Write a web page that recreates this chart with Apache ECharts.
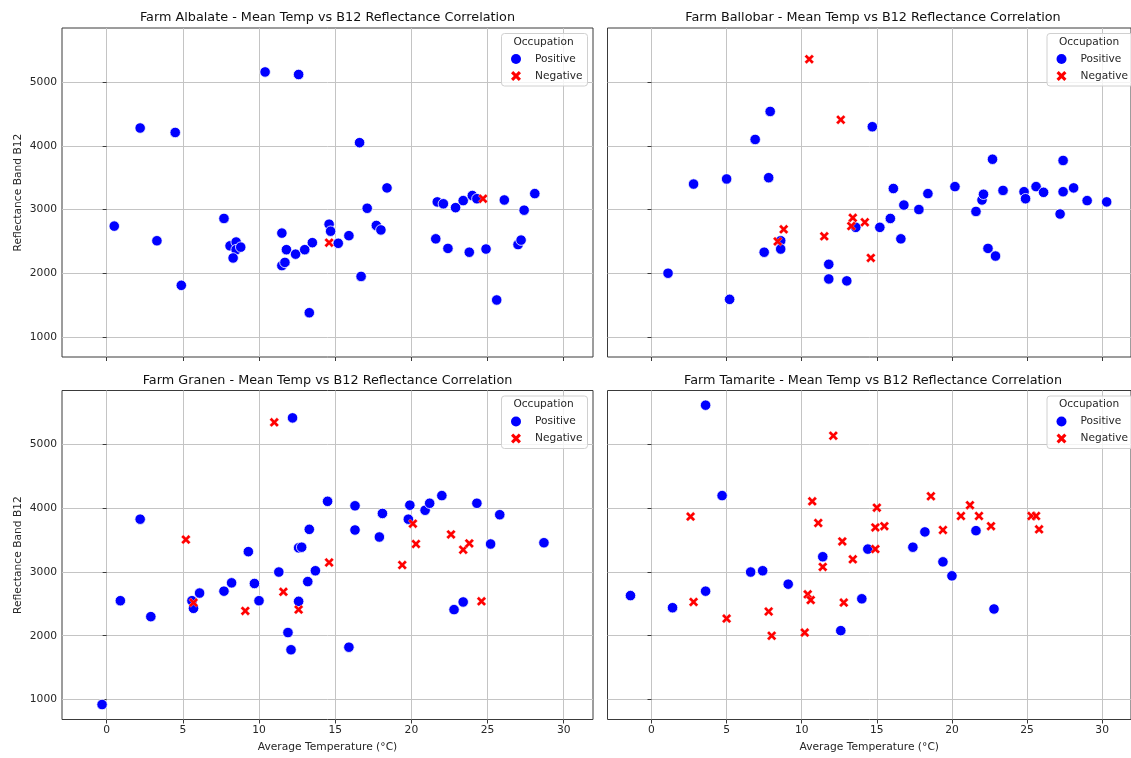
<!DOCTYPE html>
<html><head><meta charset="utf-8">
<script src="https://cdn.jsdelivr.net/npm/echarts@6/dist/echarts.min.js"></script>
<style>html,body{margin:0;padding:0;background:#fff}#c{width:1131px;height:758px}</style>
</head><body><div id="c"></div>
<script>
// ---- data: [Average Temperature (°C), Reflectance Band B12] ----
const farmNames = ['Albalate', 'Ballobar', 'Granen', 'Tamarite'];

const albalatePositive = [[0.5,2740],[2.2,4280],[3.3,2510],[4.5,4210],[4.9,1810],[7.7,2860],[8.1,2430],[8.5,2490],[8.5,2370],[8.8,2410],[8.3,2240],[10.4,5160],[12.6,5120],[11.5,2630],[11.8,2370],[11.5,2120],[11.7,2170],[12.4,2300],[13.0,2370],[13.5,2480],[13.3,1380],[14.6,2770],[14.7,2660],[15.2,2470],[15.9,2590],[16.6,4050],[16.7,1950],[17.1,3020],[17.7,2750],[18.0,2680],[18.4,3340],[21.6,2540],[21.7,3120],[22.1,3090],[22.4,2390],[22.9,3030],[23.4,3140],[23.8,2330],[24.0,3220],[24.3,3170],[24.9,2380],[25.6,1580],[26.1,3150],[27.0,2450],[27.2,2520],[27.4,2990],[28.1,3250]];
const albalateNegative = [[14.6,2480],[24.7,3170]];

const ballobarPositive = [[1.1,2000],[2.8,3400],[5.0,3480],[5.2,1590],[6.9,4100],[7.9,4540],[7.8,3500],[7.5,2330],[8.6,2510],[8.6,2380],[11.8,2140],[11.8,1910],[13.0,1880],[13.6,2720],[14.7,4300],[15.2,2720],[15.9,2860],[16.1,3330],[16.6,2540],[16.8,3070],[17.8,3000],[18.4,3250],[20.2,3360],[21.6,2970],[22.0,3150],[22.1,3240],[22.4,2390],[22.7,3790],[22.9,2270],[23.4,3300],[24.8,3280],[24.9,3170],[25.6,3360],[26.1,3270],[27.2,2930],[27.4,3770],[27.4,3280],[28.1,3340],[29.0,3140],[30.3,3120]];
const ballobarNegative = [[10.5,5360],[12.6,4410],[8.8,2690],[8.4,2500],[11.5,2580],[13.4,2870],[13.3,2740],[14.2,2800],[14.6,2240]];

const granenPositive = [[-0.3,920],[0.9,2550],[2.2,3830],[2.9,2300],[5.6,2550],[5.7,2430],[6.1,2670],[7.7,2700],[8.2,2830],[9.3,3320],[9.7,2820],[10.0,2550],[11.3,3000],[11.9,2050],[12.1,1780],[12.2,5420],[12.6,3380],[12.8,3390],[12.6,2540],[13.2,2850],[13.3,3670],[13.7,3020],[14.5,4110],[15.9,1820],[16.3,4040],[16.3,3660],[17.9,3550],[18.1,3920],[19.8,3830],[19.9,4050],[20.9,3970],[21.2,4080],[22.0,4200],[22.8,2410],[23.4,2530],[24.3,4080],[25.2,3440],[25.8,3900],[28.7,3460]];
const granenNegative = [[11.0,5350],[5.2,3510],[5.7,2520],[9.1,2390],[11.6,2690],[12.6,2410],[14.6,3150],[19.4,3110],[20.1,3760],[20.3,3440],[22.6,3590],[23.4,3350],[23.8,3450],[24.6,2540]];

const tamaritePositive = [[-1.4,2630],[1.4,2440],[3.6,5620],[3.6,2700],[4.7,4200],[6.6,3000],[7.4,3020],[9.1,2810],[11.4,3240],[12.6,2080],[14.0,2580],[14.4,3360],[17.4,3390],[18.2,3630],[19.4,3160],[20.0,2940],[21.6,3650],[22.8,2420]];
const tamariteNegative = [[2.6,3870],[2.8,2530],[5.0,2270],[7.8,2380],[8.0,2000],[10.2,2050],[10.4,2650],[10.6,2560],[10.7,4110],[11.1,3770],[11.4,3080],[12.1,5140],[12.7,3480],[12.8,2520],[13.4,3200],[14.9,3360],[14.9,3700],[15.0,4010],[15.5,3720],[18.6,4190],[19.4,3660],[20.6,3880],[21.2,4050],[21.8,3880],[22.6,3720],[25.3,3880],[25.6,3880],[25.8,3670]];

const xTickValues = [0, 5, 10, 15, 20, 25, 30];
const yTickValues = [1000, 2000, 3000, 4000, 5000];
const legendLabels = ['Positive', 'Negative'];
// ---------------------------------------------------------------

const positives = [albalatePositive, ballobarPositive, granenPositive, tamaritePositive];
const negatives = [albalateNegative, ballobarNegative, granenNegative, tamariteNegative];

const FONT = 'DejaVu Sans';
const FS = 10.7;
const XMIN = -2.93, XMAX = 31.92, YMIN = 685, YMAX = 5850;
const GW = 531, GH = 329;
const gridPos = [[62, 28], [607.5, 28], [62, 390.5], [607.5, 390.5]];
const XPATH = 'path://M0,2.2 L2.2,0 L5,2.8 L7.8,0 L10,2.2 L7.2,5 L10,7.8 L7.8,10 L5,7.2 L2.2,10 L0,7.8 L2.8,5 Z';

const grids = [], xAxes = [], yAxes = [], series = [], legends = [], graphics = [];
gridPos.forEach(([l, t], i) => {
  const isLeft = i % 2 === 0, isBottom = i >= 2;
  grids.push({left: l, top: t, width: GW, height: GH, show: true, borderColor: '#3a3a3a', borderWidth: 1, backgroundColor: 'transparent'});
  xAxes.push({
    type: 'value', gridIndex: i, min: XMIN, max: XMAX,
    axisLine: {show: false},
    axisTick: {show: true, length: 4, lineStyle: {color: '#3a3a3a'}, customValues: xTickValues},
    axisLabel: {show: isBottom, color: '#262626', fontFamily: FONT, fontSize: FS, margin: 5, customValues: xTickValues, formatter: v => String(v)},
    splitLine: {show: true, lineStyle: {color: '#c4c4c4', width: 1}},
    name: isBottom ? 'Average Temperature (°C)' : '', nameLocation: 'middle', nameGap: 22,
    nameTextStyle: {color: '#262626', fontFamily: FONT, fontSize: FS}
  });
  yAxes.push({
    type: 'value', gridIndex: i, min: YMIN, max: YMAX,
    axisLine: {show: false},
    axisTick: {show: true, length: 4, lineStyle: {color: '#3a3a3a'}, customValues: yTickValues},
    axisLabel: {show: isLeft, color: '#262626', fontFamily: FONT, fontSize: FS, margin: 5, customValues: yTickValues, formatter: v => String(v)},
    splitLine: {show: true, lineStyle: {color: '#c4c4c4', width: 1}},
    name: isLeft ? 'Reflectance Band B12' : '', nameLocation: 'middle', nameGap: 38,
    nameTextStyle: {color: '#262626', fontFamily: FONT, fontSize: FS}
  });
  series.push({
    type: 'scatter', name: legendLabels[0], xAxisIndex: i, yAxisIndex: i, data: positives[i],
    symbol: 'circle', symbolSize: 10.5,
    itemStyle: {color: '#0000ff', borderColor: '#ffffff', borderWidth: 0.8, opacity: 1}
  });
  series.push({
    type: 'scatter', name: legendLabels[1], xAxisIndex: i, yAxisIndex: i, data: negatives[i],
    symbol: XPATH, symbolSize: 9.5,
    itemStyle: {color: '#ff0000', borderColor: '#ffffff', borderWidth: 0.3, opacity: 1}
  });
  // subplot title
  graphics.push({
    type: 'text', x: l + GW / 2, y: t - 16.5,
    style: {text: 'Farm ' + farmNames[i] + ' - Mean Temp vs B12 Reflectance Correlation', fill: '#111', font: '12.8px "DejaVu Sans"', align: 'center', verticalAlign: 'top'}
  });
  // legend frame + title
  const bx = l + GW - 91.5, by = t + 5.5;
  graphics.push({type: 'rect', shape: {x: bx, y: by, width: 86, height: 52.5, r: 3}, style: {fill: 'rgba(255,255,255,0.8)', stroke: '#d0d0d0', lineWidth: 1}, z: 5});
  graphics.push({type: 'text', x: bx + 42, y: by + 3, style: {text: 'Occupation', fill: '#262626', font: '10.6px "DejaVu Sans"', align: 'center', verticalAlign: 'top'}, z: 6});
  legends.push({
    orient: 'vertical', left: bx + 9.5, top: by + 20, padding: 0, itemGap: 6,
    itemWidth: 10, itemHeight: 10, z: 7,
    textStyle: {color: '#262626', fontFamily: FONT, fontSize: 10.6, padding: [0, 0, 0, 9]},
    data: [
      {name: legendLabels[0], icon: 'circle', itemStyle: {color: '#0000ff', borderWidth: 0}},
      {name: legendLabels[1], icon: XPATH, itemStyle: {color: '#ff0000', borderWidth: 0}}
    ]
  });
});

const chart = echarts.init(document.getElementById('c'), null, {renderer: 'canvas'});
chart.setOption({
  animation: false,
  backgroundColor: '#ffffff',
  grid: grids, xAxis: xAxes, yAxis: yAxes, series: series, legend: legends,
  graphic: {elements: graphics}
});
</script></body></html>
